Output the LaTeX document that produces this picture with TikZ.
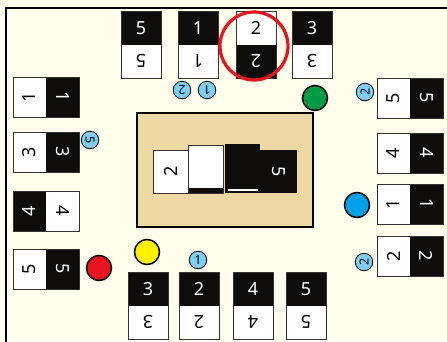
\documentclass[tikz,border=0pt]{standalone}
\usepackage{fontspec}
\setmainfont{Noto Sans}
\definecolor{bgc}{RGB}{255,253,235}
\definecolor{tan}{RGB}{237,216,163}
\definecolor{lblue}{RGB}{125,205,245}
\definecolor{gr}{RGB}{0,153,68}
\definecolor{bl}{RGB}{0,160,233}
\definecolor{ye}{RGB}{255,241,0}
\definecolor{rd}{RGB}{230,20,30}
\definecolor{tb}{RGB}{15,12,12}
\tikzset{
 tileline/.style={draw=black!80,line width=0.7pt},
 digit/.style={inner sep=0pt,font=\fontsize{18}{18}\selectfont},
 bigdot/.style={circle,draw=black,line width=1.5pt,minimum size=25pt,inner sep=0pt},
 numdot/.style={circle,draw=black,line width=0.8pt,fill=lblue,minimum size=17.5pt,inner sep=0pt,font=\fontsize{12.5}{12.5}\selectfont},
}
% vertical tile: name, x, y, top fill, top text, bottom fill, bottom text, digit
\newcommand\VTile[8]{%
 \begin{scope}[shift={(#2,#3)}]
  \fill[#4] (0,0) rectangle (40,33.5);
  \fill[#6] (0,33.5) rectangle (40,67);
  \draw[tileline] (0,0) rectangle (40,67);
  \node[digit,text=#5] (#1a) at (20,16.75) {#8};
  \node[digit,text=#7,rotate=180] (#1b) at (20,50.25) {#8};
 \end{scope}}
% horizontal tile: name, x, y, left fill, left text, right fill, right text, digit
\newcommand\HTile[8]{%
 \begin{scope}[shift={(#2,#3)}]
  \fill[#4] (0,0) rectangle (33,40);
  \fill[#6] (33,0) rectangle (66,40);
  \draw[tileline] (0,0) rectangle (66,40);
  \node[digit,text=#5,rotate=90] (#1a) at (16.5,20) {#8};
  \node[digit,text=#7,rotate=-90] (#1b) at (49.5,20) {#8};
 \end{scope}}
\begin{document}
\begin{tikzpicture}[x=1pt,y=-1pt]
\fill[bgc] (0,0) rectangle (447,341);
\useasboundingbox (0,0) rectangle (447,341);
% frame
\draw[line width=1.8pt] (6,345) -- (6,8) -- (450,8);
% centre board
\draw[fill=tan,line width=1.8pt] (137,113) rectangle (313,227);
\fill[white] (153,150) rectangle (189,193);
\draw[tileline] (153,150) rectangle (189,193);
\node[digit,rotate=90] (c2) at (171,171.5) {2};
\fill[white] (188,145) rectangle (223,188);
\fill[tb] (188,188) rectangle (223,193);
\draw[tileline] (188,145) rectangle (223,193);
\fill[tb] (225,144) rectangle (260,193);
\draw[white,line width=2pt] (228,190) -- (258,190);
\fill[tb] (260,150) rectangle (297,193);
\node[digit,text=white,rotate=-90] (c5) at (278.5,171.5) {5};
% top row
\VTile{ta}{121}{11}{tb}{white}{white}{black}{5}
\VTile{tbb}{178}{11}{tb}{white}{white}{black}{1}
\VTile{tc}{236}{11}{white}{black}{tb}{white}{2}
\VTile{td}{292}{11}{tb}{white}{white}{black}{3}
% bottom row
\VTile{ba}{128}{272}{tb}{white}{white}{black}{3}
\VTile{bbb}{179}{272}{tb}{white}{white}{black}{2}
\VTile{bc}{233}{272}{tb}{white}{white}{black}{4}
\VTile{bd}{286}{272}{tb}{white}{white}{black}{5}
% left column
\HTile{la}{13}{77}{white}{black}{tb}{white}{1}
\HTile{lb}{13}{132}{white}{black}{tb}{white}{3}
\HTile{lc}{13}{191}{tb}{white}{white}{black}{4}
\HTile{ld}{13}{249}{white}{black}{tb}{white}{5}
% right column
\HTile{ra}{377}{78}{white}{black}{tb}{white}{5}
\HTile{rb}{377}{133}{white}{black}{tb}{white}{4}
\HTile{rc}{377}{184}{white}{black}{tb}{white}{1}
\HTile{rd}{377}{236}{white}{black}{tb}{white}{2}
% big coloured dots
\node[bigdot,fill=gr] (green) at (315,98) {};
\node[bigdot,fill=bl] (blue) at (357,205) {};
\node[bigdot,fill=rd] (red) at (99,268) {};
\node[bigdot,fill=ye] (yellow) at (147,252) {};
% numbered dots
\node[numdot,rotate=180] (n1) at (182,90) {2};
\node[numdot,rotate=180] (n2) at (207,90) {1};
\node[numdot,rotate=-90] (n3) at (90,140) {5};
\node[numdot,rotate=90] (n4) at (365,92) {2};
\node[numdot] (n5) at (198,260) {1};
\node[numdot,rotate=90] (n6) at (364,262) {2};
% red highlight ring
\node[circle,draw=rd,line width=3.2pt,minimum size=68pt,inner sep=0pt] (ring) at (254,46) {};
\end{tikzpicture}
\end{document}
